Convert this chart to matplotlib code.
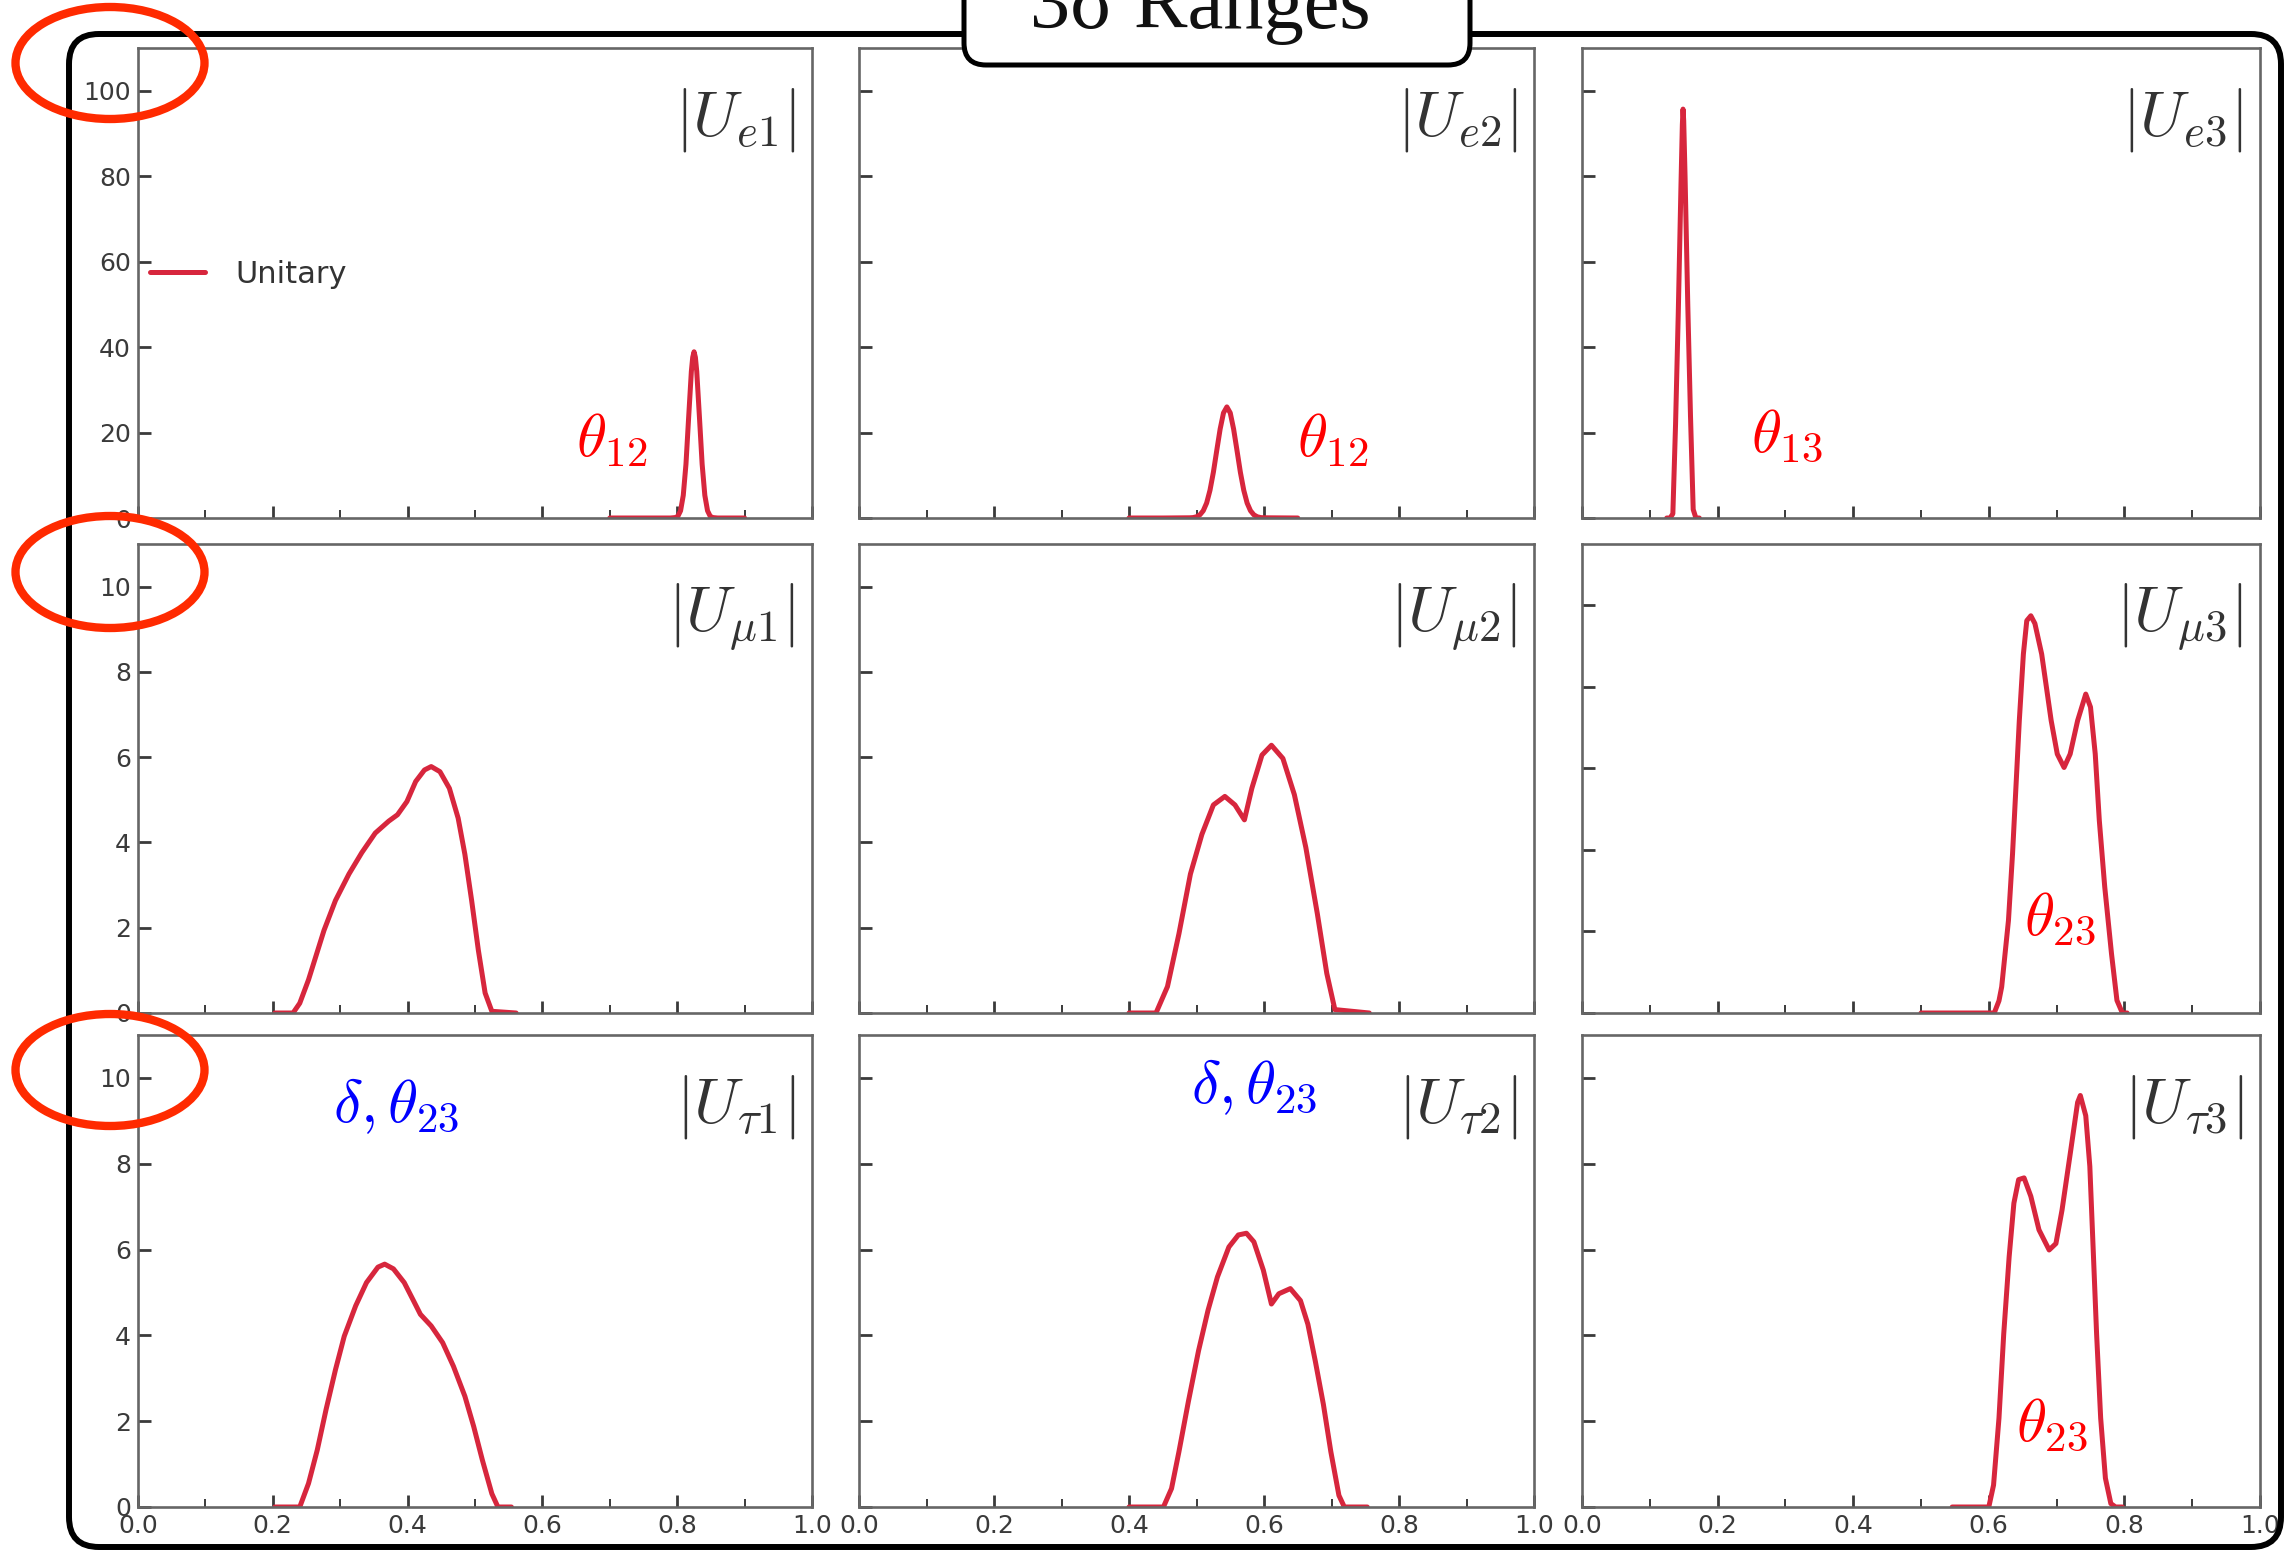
import matplotlib
matplotlib.use("Agg")
import matplotlib.pyplot as plt
from matplotlib.patches import FancyBboxPatch, Ellipse
from matplotlib.ticker import MultipleLocator

plt.rcParams["mathtext.fontset"] = "cm"
plt.rcParams["font.family"] = ["DejaVu Sans"]

W, H = 2287, 1551
RED = "#d7263d"

# curves (x = |U| value, y = density)
ue1_x = [0.70, 0.75, 0.79, 0.797, 0.801, 0.805, 0.809, 0.813, 0.817, 0.821, 0.823, 0.825,
         0.827, 0.829, 0.833, 0.837, 0.841, 0.845, 0.849, 0.853, 0.86, 0.90]
ue1_y = [0, 0, 0, 0.1, 0.4, 1.7, 5.3, 12.6, 23.6, 34.3, 37.6, 38.9,
         37.6, 34.3, 23.6, 12.6, 5.3, 1.7, 0.4, 0.1, 0, 0]

ue2_x = [0.40, 0.45, 0.49, 0.495, 0.500, 0.505, 0.510, 0.515, 0.520, 0.525, 0.530, 0.535,
         0.540, 0.545, 0.550, 0.555, 0.560, 0.565, 0.570, 0.575, 0.580, 0.585, 0.590,
         0.595, 0.60, 0.65]
ue2_y = [0, 0, 0.05, 0.1, 0.29, 0.74, 1.7, 3.5, 6.5, 10.7, 15.8, 20.8,
         24.6, 26.0, 24.6, 20.8, 15.8, 10.7, 6.5, 3.5, 1.7, 0.74, 0.29,
         0.1, 0.05, 0]

ue3_x = [0.125, 0.130, 0.134, 0.138, 0.142, 0.146, 0.148, 0.149, 0.150, 0.152, 0.156,
         0.160, 0.164, 0.168, 0.173]
ue3_y = [0, 0, 1, 22, 48, 78, 92, 95.7, 93, 80, 50, 24, 2, 0, 0]

um1_x = [0.203, 0.230, 0.240, 0.253, 0.276, 0.293, 0.313, 0.332, 0.352, 0.372, 0.385, 0.399,
         0.412, 0.425, 0.435, 0.448, 0.462, 0.475, 0.485, 0.495, 0.505, 0.515, 0.525, 0.561]
um1_y = [0, 0, 0.23, 0.78, 1.94, 2.64, 3.26, 3.76, 4.22, 4.50, 4.65, 4.96,
         5.43, 5.70, 5.78, 5.66, 5.27, 4.57, 3.72, 2.64, 1.47, 0.47, 0.04, 0]

um2_x = [0.400, 0.440, 0.457, 0.474, 0.491, 0.508, 0.525, 0.542, 0.557, 0.571, 0.582, 0.597,
         0.611, 0.628, 0.645, 0.662, 0.679, 0.693, 0.705, 0.756]
um2_y = [0, 0, 0.62, 1.86, 3.26, 4.19, 4.88, 5.08, 4.88, 4.53, 5.27, 6.05,
         6.28, 5.97, 5.12, 3.88, 2.33, 0.93, 0.08, 0]

um3_x = [0.500, 0.608, 0.615, 0.619, 0.629, 0.635, 0.640, 0.645, 0.651, 0.656, 0.662, 0.668,
         0.678, 0.692, 0.701, 0.711, 0.720, 0.731, 0.743, 0.750, 0.757, 0.763, 0.771,
         0.781, 0.789, 0.797, 0.804]
um3_y = [0, 0, 0.3, 0.64, 2.27, 3.90, 5.53, 7.17, 8.80, 9.62, 9.74, 9.55,
         8.80, 7.17, 6.35, 6.02, 6.35, 7.17, 7.82, 7.50, 6.35, 4.72, 3.09,
         1.45, 0.31, 0, 0]

ut1_x = [0.203, 0.240, 0.253, 0.266, 0.279, 0.293, 0.306, 0.323, 0.339, 0.356, 0.366, 0.379,
         0.395, 0.409, 0.419, 0.435, 0.452, 0.468, 0.485, 0.498, 0.511, 0.525, 0.534, 0.554]
ut1_y = [0, 0, 0.55, 1.33, 2.27, 3.20, 3.98, 4.69, 5.23, 5.59, 5.66, 5.55,
         5.23, 4.80, 4.49, 4.22, 3.83, 3.28, 2.58, 1.88, 1.09, 0.31, 0, 0]

ut2_x = [0.400, 0.451, 0.463, 0.474, 0.488, 0.503, 0.517, 0.531, 0.548, 0.562, 0.574, 0.585,
         0.599, 0.611, 0.622, 0.639, 0.654, 0.665, 0.676, 0.688, 0.699, 0.711, 0.719, 0.753]
ut2_y = [0, 0, 0.43, 1.29, 2.46, 3.64, 4.58, 5.36, 6.06, 6.34, 6.38, 6.18,
         5.52, 4.73, 4.97, 5.09, 4.81, 4.26, 3.40, 2.39, 1.29, 0.27, 0, 0]

ut3_x = [0.546, 0.600, 0.607, 0.615, 0.622, 0.630, 0.637, 0.644, 0.652, 0.662, 0.674, 0.689,
         0.699, 0.708, 0.721, 0.731, 0.735, 0.743, 0.749, 0.754, 0.759, 0.765, 0.772,
         0.780, 0.787, 0.797]
ut3_y = [0, 0, 0.51, 2.07, 4.03, 5.83, 7.08, 7.63, 7.67, 7.24, 6.46, 5.99,
         6.14, 6.92, 8.33, 9.43, 9.59, 9.12, 7.94, 5.99, 4.03, 2.07, 0.67,
         0.08, 0, 0]

labels = [[r"$|U_{e1}|$", r"$|U_{e2}|$", r"$|U_{e3}|$"],
          [r"$|U_{\mu1}|$", r"$|U_{\mu2}|$", r"$|U_{\mu3}|$"],
          [r"$|U_{\tau1}|$", r"$|U_{\tau2}|$", r"$|U_{\tau3}|$"]]

curves = [[(ue1_x, ue1_y), (ue2_x, ue2_y), (ue3_x, ue3_y)],
          [(um1_x, um1_y), (um2_x, um2_y), (um3_x, um3_y)],
          [(ut1_x, ut1_y), (ut2_x, ut2_y), (ut3_x, ut3_y)]]

ylims = [[110, 110, 110], [11, 11, 11.5], [11, 11, 11]]

# (row, col, text, colour, x, y) in axes fraction
notes = [(0, 0, r"$\theta_{12}$", "#ff0000", 0.703, 0.166),
         (0, 1, r"$\theta_{12}$", "#ff0000", 0.702, 0.166),
         (0, 2, r"$\theta_{13}$", "#ff0000", 0.302, 0.177),
         (1, 2, r"$\theta_{23}$", "#ff0000", 0.705, 0.203),
         (2, 0, r"$\delta,\theta_{23}$", "#0000ff", 0.383, 0.850),
         (2, 1, r"$\delta,\theta_{23}$", "#0000ff", 0.585, 0.890),
         (2, 2, r"$\theta_{23}$", "#ff0000", 0.693, 0.176)]

col_left = [138, 859, 1582]
col_width = [674, 675, 678]
row_top = [48, 544, 1035]
row_height = [470, 469, 472]

fig = plt.figure(figsize=(W / 100, H / 100), dpi=100)
fig.patch.set_facecolor("white")

axes = {}
for r in range(3):
    for c in range(3):
        ax = fig.add_axes([col_left[c] / W, 1 - (row_top[r] + row_height[r]) / H,
                           col_width[c] / W, row_height[r] / H])
        axes[(r, c)] = ax
        x, y = curves[r][c]
        ax.plot(x, y, color=RED, lw=3.6, solid_joinstyle="round", solid_capstyle="round",
                label="Unitary")
        ax.set_xlim(0, 1)
        ax.set_ylim(0, ylims[r][c])
        ax.xaxis.set_major_locator(MultipleLocator(0.2))
        ax.xaxis.set_minor_locator(MultipleLocator(0.1))
        ax.yaxis.set_major_locator(MultipleLocator(20 if r == 0 else 2))
        ax.tick_params(which="both", direction="in", top=False, right=False,
                       colors="#3a3a3a", labelsize=18)
        ax.tick_params(which="major", length=9, width=2)
        ax.tick_params(which="minor", length=6, width=1.4)
        ax.tick_params(axis="y", pad=5)
        ax.tick_params(axis="x", pad=5)
        for s in ax.spines.values():
            s.set_color("#666666")
            s.set_linewidth(1.9)
        if r < 2:
            ax.tick_params(labelbottom=False)
        if c > 0:
            ax.tick_params(labelleft=False)
        ax.text(0.975, 0.92, labels[r][c], transform=ax.transAxes, ha="right", va="top",
                fontsize=46, color="#333333")

for r, c, txt, col, tx, ty in notes:
    axes[(r, c)].text(tx, ty, txt, transform=axes[(r, c)].transAxes, ha="center",
                      va="center", fontsize=44, color=col)

leg = axes[(0, 0)].legend(loc="center left", bbox_to_anchor=(0.018, 0.519), frameon=False,
                          fontsize=22, handlelength=1.8, handletextpad=1.0,
                          borderaxespad=0, borderpad=0)
for t in leg.get_texts():
    t.set_color("#333333")

# overlay in pixel units: frame, title tab, red circles
ov = fig.add_axes([0, 0, 1, 1], zorder=10)
ov.set_xlim(0, W)
ov.set_ylim(H, 0)
ov.axis("off")
ov.patch.set_alpha(0)
ov.add_patch(FancyBboxPatch((69, 34), 2212, 1513, boxstyle="round,pad=0,rounding_size=30",
                            fill=False, ec="black", lw=4.3))
ov.add_patch(FancyBboxPatch((964, -80), 506, 145, boxstyle="round,pad=0,rounding_size=22",
                            fc="white", ec="black", lw=3.6))
ov.text(1200, 28, "3σ Ranges", family="Liberation Serif", fontsize=58, ha="center",
        va="baseline", color="#111111")
for cy in [63, 572, 1070]:
    ov.add_patch(Ellipse((110, cy), 189, 112, fill=False, ec="#ff2a00", lw=6))

fig.savefig("out.png", dpi=100)
